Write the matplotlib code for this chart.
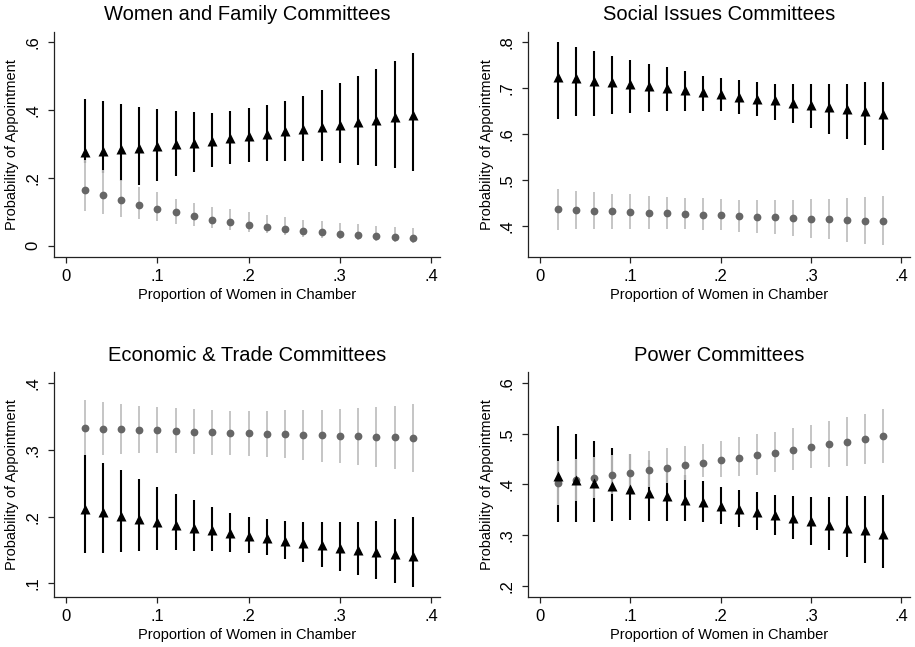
import matplotlib
matplotlib.use("Agg")
import matplotlib.pyplot as plt
import numpy as np

plt.rcParams['font.family'] = ['Liberation Sans', 'DejaVu Sans']

# proportion of women in chamber (x values)
share = [0.02, 0.04, 0.06, 0.08, 0.10, 0.12, 0.14, 0.16, 0.18, 0.20,
         0.22, 0.24, 0.26, 0.28, 0.30, 0.32, 0.34, 0.36, 0.38]

titles = ["Women and Family Committees", "Social Issues Committees",
          "Economic & Trade Committees", "Power Committees"]

# Women and Family
wf_tri = [0.275, 0.279, 0.284, 0.289, 0.294, 0.299, 0.304, 0.310, 0.317, 0.323,
          0.330, 0.337, 0.343, 0.350, 0.357, 0.364, 0.372, 0.378, 0.384]
wf_tri_hi = [0.434, 0.426, 0.418, 0.409, 0.403, 0.398, 0.394, 0.392, 0.398, 0.406,
             0.416, 0.428, 0.440, 0.460, 0.479, 0.500, 0.522, 0.546, 0.569]
wf_tri_lo = [0.245, 0.215, 0.190, 0.180, 0.192, 0.205, 0.216, 0.232, 0.241, 0.248,
             0.251, 0.251, 0.251, 0.249, 0.245, 0.239, 0.234, 0.228, 0.220]
wf_dot = [0.165, 0.150, 0.134, 0.121, 0.107, 0.098, 0.087, 0.077, 0.070, 0.062,
          0.056, 0.049, 0.044, 0.040, 0.035, 0.032, 0.029, 0.027, 0.024]
wf_dot_hi = [0.253, 0.222, 0.195, 0.174, 0.157, 0.139, 0.127, 0.115, 0.107, 0.098,
             0.091, 0.084, 0.077, 0.074, 0.068, 0.063, 0.059, 0.056, 0.053]
wf_dot_lo = [0.103, 0.094, 0.086, 0.080, 0.074, 0.065, 0.058, 0.052, 0.046, 0.041,
             0.036, 0.031, 0.027, 0.023, 0.019, 0.017, 0.014, 0.011, 0.009]

# Social Issues
si_tri = [0.724, 0.721, 0.716, 0.713, 0.708, 0.704, 0.700, 0.695, 0.691, 0.687,
          0.681, 0.677, 0.673, 0.668, 0.663, 0.658, 0.654, 0.649, 0.643]
si_tri_hi = [0.800, 0.790, 0.780, 0.771, 0.762, 0.752, 0.745, 0.737, 0.727, 0.723,
             0.717, 0.713, 0.709, 0.708, 0.708, 0.708, 0.710, 0.713, 0.714]
si_tri_lo = [0.633, 0.639, 0.640, 0.643, 0.646, 0.648, 0.649, 0.649, 0.650, 0.649,
             0.644, 0.639, 0.631, 0.623, 0.612, 0.599, 0.589, 0.577, 0.564]
si_dot = [0.436, 0.434, 0.433, 0.431, 0.430, 0.428, 0.427, 0.425, 0.424, 0.423,
          0.421, 0.420, 0.418, 0.417, 0.415, 0.414, 0.412, 0.411, 0.410]
si_dot_hi = [0.480, 0.476, 0.473, 0.470, 0.468, 0.465, 0.463, 0.461, 0.460, 0.458,
             0.457, 0.456, 0.457, 0.457, 0.458, 0.459, 0.460, 0.462, 0.464]
si_dot_lo = [0.391, 0.393, 0.393, 0.393, 0.393, 0.393, 0.393, 0.392, 0.391, 0.390,
             0.387, 0.384, 0.382, 0.378, 0.374, 0.370, 0.365, 0.361, 0.357]

# Economic & Trade
et_tri = [0.2115, 0.2065, 0.2015, 0.197, 0.1925, 0.188, 0.1835, 0.1795, 0.1755, 0.1715,
          0.1675, 0.164, 0.1605, 0.157, 0.1535, 0.150, 0.147, 0.1445, 0.1415]
et_tri_hi = [0.2925, 0.281, 0.270, 0.2565, 0.245, 0.2345, 0.2245, 0.214, 0.2055, 0.1995,
             0.1965, 0.1935, 0.1925, 0.192, 0.192, 0.1925, 0.194, 0.1965, 0.1995]
et_tri_lo = [0.145, 0.146, 0.1475, 0.149, 0.150, 0.150, 0.149, 0.149, 0.1475, 0.146,
             0.1425, 0.137, 0.1315, 0.125, 0.1185, 0.112, 0.1065, 0.1005, 0.095]
et_dot = [0.3325, 0.332, 0.331, 0.330, 0.3295, 0.3285, 0.3275, 0.327, 0.326, 0.325,
          0.3245, 0.3235, 0.323, 0.322, 0.3215, 0.3205, 0.320, 0.319, 0.3185]
et_dot_hi = [0.375, 0.372, 0.3695, 0.366, 0.364, 0.3625, 0.361, 0.3595, 0.3585, 0.358,
             0.3585, 0.360, 0.360, 0.360, 0.3615, 0.3625, 0.364, 0.366, 0.3685]
et_dot_lo = [0.292, 0.293, 0.294, 0.295, 0.295, 0.295, 0.294, 0.293, 0.292, 0.291,
             0.290, 0.2875, 0.285, 0.2825, 0.280, 0.2775, 0.275, 0.271, 0.2675]

# Power
pw_tri = [0.416, 0.409, 0.403, 0.397, 0.391, 0.384, 0.378, 0.370, 0.3645, 0.358,
          0.351, 0.345, 0.339, 0.333, 0.327, 0.321, 0.315, 0.3095, 0.303]
pw_tri_hi = [0.516, 0.500, 0.486, 0.472, 0.460, 0.448, 0.432, 0.418, 0.406, 0.396,
             0.389, 0.385, 0.380, 0.378, 0.375, 0.376, 0.377, 0.378, 0.379]
pw_tri_lo = [0.325, 0.326, 0.326, 0.327, 0.329, 0.328, 0.327, 0.327, 0.325, 0.322,
             0.317, 0.3105, 0.301, 0.292, 0.280, 0.270, 0.257, 0.245, 0.235]
pw_dot = [0.403, 0.408, 0.413, 0.418, 0.423, 0.428, 0.433, 0.4375, 0.443, 0.448,
          0.453, 0.4585, 0.463, 0.468, 0.474, 0.479, 0.484, 0.4895, 0.495]
pw_dot_hi = [0.447, 0.450, 0.455, 0.458, 0.461, 0.4665, 0.471, 0.475, 0.480, 0.486,
             0.493, 0.499, 0.504, 0.511, 0.518, 0.526, 0.533, 0.540, 0.549]
pw_dot_lo = [0.359, 0.367, 0.374, 0.381, 0.389, 0.396, 0.403, 0.409, 0.414, 0.414,
             0.416, 0.419, 0.425, 0.429, 0.432, 0.434, 0.437, 0.440, 0.442]

panels = [
    (wf_tri, wf_tri_lo, wf_tri_hi, wf_dot, wf_dot_lo, wf_dot_hi),
    (si_tri, si_tri_lo, si_tri_hi, si_dot, si_dot_lo, si_dot_hi),
    (et_tri, et_tri_lo, et_tri_hi, et_dot, et_dot_lo, et_dot_hi),
    (pw_tri, pw_tri_lo, pw_tri_hi, pw_dot, pw_dot_lo, pw_dot_hi),
]
y_ranges = [(-0.033, 0.631), (0.332, 0.823), (0.0795, 0.416), (0.178, 0.621)]
y_ticks = [[0, 0.2, 0.4, 0.6], [0.4, 0.5, 0.6, 0.7, 0.8],
           [0.1, 0.2, 0.3, 0.4], [0.2, 0.3, 0.4, 0.5, 0.6]]
x_ticks = [0, 0.1, 0.2, 0.3, 0.4]

# axes boxes in figure fractions [left, bottom, width, height]
boxes = [[0.059, 0.603, 0.422, 0.348], [0.577, 0.603, 0.418, 0.348],
         [0.059, 0.0773, 0.422, 0.347], [0.577, 0.0773, 0.418, 0.347]]


def stata_label(v):
    s = "%g" % v
    return s[1:] if s.startswith("0.") else s


fig = plt.figure(figsize=(9.15, 6.47), dpi=100)

for i, (tri, tlo, thi, dot, dlo, dhi) in enumerate(panels):
    ax = fig.add_axes(boxes[i])
    ax.vlines(share, tlo, thi, color='black', lw=1.5, zorder=2)
    ax.vlines(share, dlo, dhi, color='#c0c0c0', lw=1.3, zorder=3)
    ax.plot(share, dot, 'o', color='#666666', ms=5.6, mec='none', zorder=4)
    ax.plot(share, tri, '^', color='black', ms=7, mec='none', zorder=5)

    ax.set_xlim(-0.0135, 0.41)
    ax.set_ylim(*y_ranges[i])
    ax.set_xticks(x_ticks)
    ax.set_xticklabels([stata_label(v) for v in x_ticks])
    ax.set_yticks(y_ticks[i])
    ax.set_yticklabels([stata_label(v) for v in y_ticks[i]],
                       rotation=90, va='center')
    ax.tick_params(axis='both', labelsize=12, length=4, width=0.9,
                   color='#222222', direction='out')
    ax.tick_params(axis='x', pad=5)
    ax.tick_params(axis='y', pad=6)
    for side in ['top', 'right']:
        ax.spines[side].set_visible(False)
    for side in ['left', 'bottom']:
        ax.spines[side].set_linewidth(0.9)
        ax.spines[side].set_color('#222222')

    ax.set_xlabel("Proportion of Women in Chamber", fontsize=10.5)
    ax.set_ylabel("Probability of Appointment", fontsize=10.5)
    ax.xaxis.set_label_coords(0.5, -0.14)
    ax.yaxis.set_label_coords(-0.09, 0.5)
    ax.text(0.5, 1.077, titles[i], transform=ax.transAxes,
            ha='center', va='center', fontsize=14.5)

fig.savefig("out.png", dpi=100)
